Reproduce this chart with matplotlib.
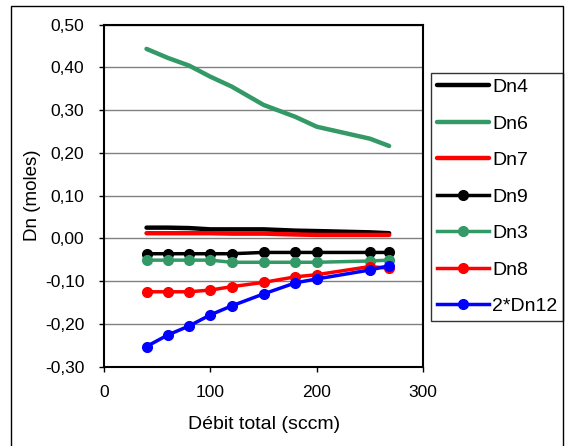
import matplotlib.pyplot as plt
from matplotlib.patches import Rectangle
from matplotlib.ticker import FuncFormatter

plt.rcParams['font.family'] = ['Liberation Sans', 'DejaVu Sans']

# Debit total (sccm)
debit = [40, 60, 80, 100, 120, 150, 180, 200, 250, 268]

# Dn (moles)
dn4 = [0.025, 0.025, 0.024, 0.021, 0.021, 0.021, 0.018, 0.017, 0.014, 0.012]
dn6 = [0.443, 0.422, 0.404, 0.378, 0.355, 0.312, 0.284, 0.261, 0.233, 0.216]
dn7 = [0.012, 0.012, 0.012, 0.012, 0.011, 0.011, 0.009, 0.008, 0.008, 0.008]
dn9 = [-0.036, -0.036, -0.036, -0.036, -0.036, -0.033, -0.033, -0.033, -0.033, -0.033]
dn3 = [-0.051, -0.051, -0.051, -0.051, -0.056, -0.056, -0.056, -0.056, -0.053, -0.051]
dn8 = [-0.125, -0.125, -0.125, -0.121, -0.113, -0.103, -0.090, -0.085, -0.066, -0.070]
dn12x2 = [-0.253, -0.226, -0.205, -0.179, -0.158, -0.130, -0.104, -0.095, -0.074, -0.064]

vert = '#339966'

fig = plt.figure(figsize=(5.65, 4.46), dpi=100)
ax = fig.add_axes([0.184, 0.178, 0.565, 0.767])

# courbes sans marqueurs
ax.plot(debit, dn4, color='black', lw=3.2, label='Dn4', solid_capstyle='round')
ax.plot(debit, dn6, color=vert, lw=3.2, label='Dn6', solid_capstyle='round')
ax.plot(debit, dn7, color='red', lw=3.2, label='Dn7', solid_capstyle='round')
# courbes avec marqueurs
ax.plot(debit, dn9, color='black', lw=2.5, marker='o', ms=7, label='Dn9')
ax.plot(debit, dn3, color=vert, lw=2.5, marker='o', ms=7, label='Dn3')
ax.plot(debit, dn8, color='red', lw=2.5, marker='o', ms=7, label='Dn8')
ax.plot(debit, dn12x2, color='blue', lw=2.5, marker='o', ms=7, label='2*Dn12')

ax.set_xlim(0, 300)
ax.set_ylim(-0.30, 0.50)
ax.set_xticks([0, 100, 200, 300])
ax.set_yticks([-0.3, -0.2, -0.1, 0.0, 0.1, 0.2, 0.3, 0.4, 0.5])
ax.yaxis.set_major_formatter(FuncFormatter(lambda v, p: f"{v:.2f}".replace('.', ',').replace('-0,00', '0,00')))
ax.tick_params(labelsize=12.5, length=3.6, width=1, direction='out')
ax.tick_params(axis='y', pad=10.5)
ax.tick_params(axis='x', pad=9.5)
ax.grid(axis='y', color='#808080', lw=1)
ax.set_axisbelow(True)
for s in ax.spines.values():
    s.set_linewidth(1.5)

ax.set_xlabel('Débit total (sccm)', fontsize=14, labelpad=12)
ax.set_ylabel('Dn (moles)', fontsize=13.5, labelpad=3)

# legende a droite, collee au cadre
leg = ax.legend(loc='upper left', bbox_to_anchor=(430.7 / 565, 1 - 72.7 / 446),
                bbox_transform=fig.transFigure, fontsize=14, frameon=True,
                fancybox=False, edgecolor='black', handlelength=2.7,
                handletextpad=0.15, labelspacing=0.97, borderaxespad=0,
                borderpad=0.3)
leg.get_frame().set_linewidth(1)

# cadre exterieur
fig.patches.append(Rectangle((11 / 565, -0.02), 552 / 565, 1.02 - 6 / 446,
                             transform=fig.transFigure, fill=False,
                             edgecolor='black', lw=1))

fig.savefig('out.png', dpi=100)
